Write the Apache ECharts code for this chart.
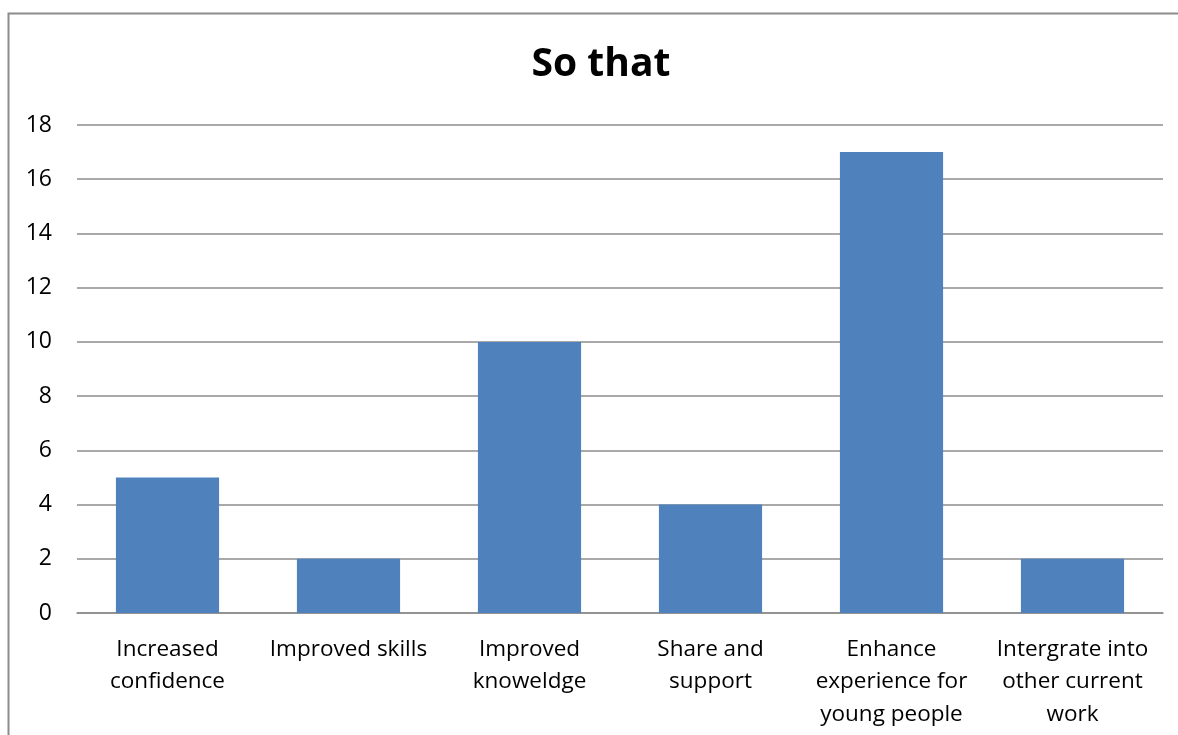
<!DOCTYPE html>
<html>
<head>
<meta charset="utf-8">
<style>
  html, body { margin: 0; padding: 0; background: #fff; }
  #chart { width: 1178px; height: 735px; }
</style>
<script src="https://cdn.jsdelivr.net/npm/echarts@6/dist/echarts.min.js"></script>
</head>
<body>
<div id="chart"></div>
<script>
const categories = [
  'Increased\nconfidence',
  'Improved skills',
  'Improved\nknoweldge',
  'Share and\nsupport',
  'Enhance\nexperience for\nyoung people',
  'Intergrate into\nother current\nwork'
];
const values = [5, 2, 10, 4, 17, 2];
const chartTitle = 'So that';

const FONT = '"Open Sans", Lato, sans-serif';
const chart = echarts.init(document.getElementById('chart'), null, { renderer: 'canvas' });

chart.setOption({
  animation: false,
  backgroundColor: '#ffffff',
  title: {
    text: chartTitle,
    left: 596,
    top: 40,
    textAlign: 'center',
    textStyle: { fontFamily: FONT, fontWeight: 'bold', fontSize: 39, color: '#000' }
  },
  graphic: [{
    type: 'rect',
    shape: { x: 8.5, y: 13.5, width: 1300, height: 900 },
    style: { fill: null, stroke: '#8c8c8c', lineWidth: 2 },
    silent: true
  }],
  grid: { left: 77, right: 15, top: 125, bottom: 122, containLabel: false },
  xAxis: {
    type: 'category',
    data: categories,
    axisLine: { show: true, lineStyle: { color: '#8c8c8c', width: 1.5 } },
    axisTick: { show: false },
    axisLabel: {
      interval: 0,
      margin: 20,
      fontFamily: FONT,
      fontSize: 22.5,
      lineHeight: 32.5,
      color: '#000',
      align: 'center',
      verticalAlign: 'top'
    }
  },
  yAxis: {
    type: 'value',
    min: 0,
    max: 18,
    interval: 2,
    axisLine: { show: false },
    axisTick: { show: false },
    splitLine: { lineStyle: { color: '#8c8c8c', width: 1.5 } },
    axisLabel: { fontFamily: FONT, fontSize: 23, color: '#000', margin: 25, align: 'right' }
  },
  series: [{
    type: 'bar',
    data: values,
    barWidth: '57%',
    itemStyle: { color: '#4f81bd' }
  }]
});
</script>
</body>
</html>
